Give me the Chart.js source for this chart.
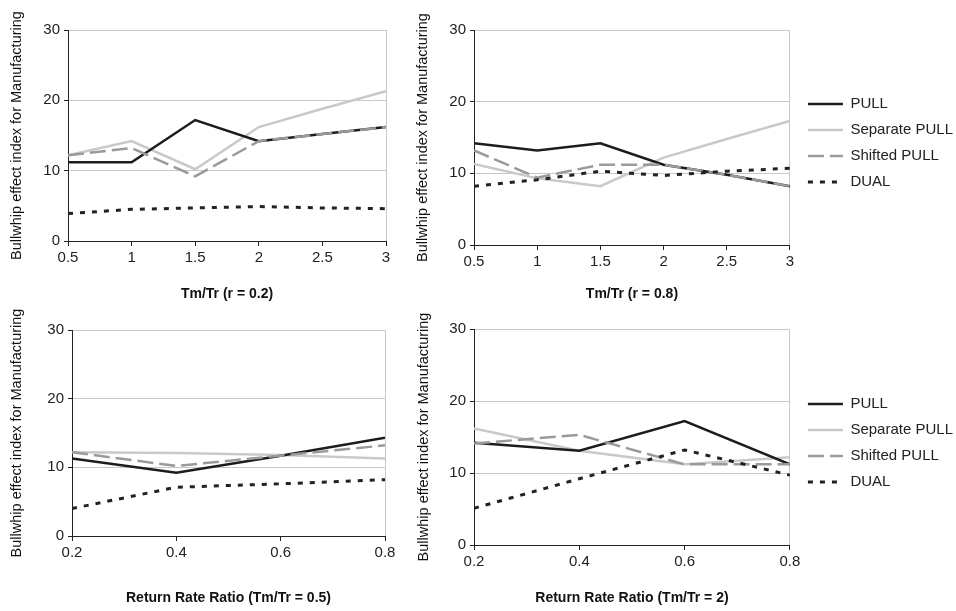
<!DOCTYPE html>
<html>
<head>
<meta charset="utf-8">
<script src="https://cdn.jsdelivr.net/npm/chart.js@4.4.1/dist/chart.umd.min.js"></script>
<style>
  html, body { margin: 0; padding: 0; background: #fff; }
  body { width: 956px; height: 611px; position: relative; overflow: hidden; }
  canvas { position: absolute; }
</style>
</head>
<body>
<canvas id="chartR02" width="400" height="305" style="left:0;top:0"></canvas>
<canvas id="chartR08" width="556" height="305" style="left:400px;top:0"></canvas>
<canvas id="chartTm05" width="400" height="306" style="left:0;top:305px"></canvas>
<canvas id="chartTm2" width="556" height="306" style="left:400px;top:305px"></canvas>
<script>
const seriesNames = ["PULL", "Separate PULL", "Shifted PULL", "DUAL"]
const yTicks = [0, 10, 20, 30]
const tmTrValues = [0.5, 1, 1.5, 2, 2.5, 3]
const returnRatioValues = [0.2, 0.4, 0.6, 0.8]

// Tm/Tr (r = 0.2)
const r02Pull = [11.2, 11.2, 17.2, 14.2, 15.2, 16.2]
const r02Separate = [12.2, 14.2, 10.2, 16.2, 18.8, 21.3]
const r02Shifted = [12.2, 13.2, 9.2, 14.2, 15.2, 16.2]
const r02Dual = [3.9, 4.5, 4.7, 4.9, 4.7, 4.6]

// Tm/Tr (r = 0.8)
const r08Pull = [14.2, 13.2, 14.2, 11.2, 9.8, 8.2]
const r08Separate = [11.3, 9.3, 8.2, 12.2, 14.8, 17.3]
const r08Shifted = [13.2, 9.4, 11.2, 11.2, 9.8, 8.2]
const r08Dual = [8.2, 9.1, 10.3, 9.7, 10.3, 10.7]

// Return Rate Ratio (Tm/Tr = 0.5)
const tm05Pull = [11.3, 9.2, 11.7, 14.3]
const tm05Separate = [12.2, 12.1, 11.8, 11.3]
const tm05Shifted = [12.2, 10.2, 11.7, 13.2]
const tm05Dual = [4.0, 7.1, 7.6, 8.2]

// Return Rate Ratio (Tm/Tr = 2)
const tm2Pull = [14.2, 13.1, 17.2, 11.2]
const tm2Separate = [16.2, 13.1, 11.2, 12.2]
const tm2Shifted = [14.1, 15.3, 11.2, 11.2]
const tm2Dual = [5.1, 9.2, 13.2, 9.7]

const yTitle = "Bullwhip effect index for Manufacturing"
const axisColor = "#222"
const gridGray = "#c8c8c8"
const clear = "rgba(0,0,0,0)"

Chart.defaults.font.family = "'Liberation Sans', Arial, Helvetica, sans-serif"
Chart.defaults.color = axisColor

// one style per series, same order as seriesNames
const lineStyles = [
  { borderColor: "#1c1c1c", borderWidth: 2.5, order: 2 },
  { borderColor: "#c9c9c9", borderWidth: 2.5, order: 3 },
  { borderColor: "#9a9a9a", borderWidth: 2.5, borderDash: [16, 6], order: 1 },
  { borderColor: "#222", borderWidth: 3, borderDash: [5, 7], order: 0 },
]

// legend entries drawn as short line samples with the dataset's own dash
function legendLabels(chart) {
  const items = Chart.defaults.plugins.legend.labels.generateLabels(chart)
  return items.map((item) => {
    const ds = chart.data.datasets[item.datasetIndex]
    return {
      ...item,
      strokeStyle: ds.borderColor,
      fillStyle: ds.borderColor,
      lineWidth: ds.borderWidth,
      lineDash: ds.borderDash || [],
      pointStyle: "line",
    }
  })
}

// nudge the legend a little away from the plot
const legendGap = {
  id: "legendGap",
  afterLayout(chart, args, opts) {
    if (chart.legend && opts.shift) {
      chart.legend.left += opts.shift
      chart.legend.right += opts.shift
    }
  },
}

function makePanel(id, xValues, rows, xTitle, box) {
  const xMin = xValues[0]
  const xMax = xValues[xValues.length - 1]
  const datasets = rows.map((values, i) => ({
    label: seriesNames[i],
    data: values.map((v, j) => ({ x: xValues[j], y: v })),
    pointRadius: 0,
    tension: 0,
    fill: false,
    ...lineStyles[i],
  }))

  new Chart(document.getElementById(id), {
    type: "line",
    data: { datasets },
    plugins: [legendGap],
    options: {
      responsive: false,
      animation: false,
      layout: { padding: { top: box.top, right: box.right, left: 0, bottom: 0 } },
      plugins: {
        tooltip: { enabled: false },
        legendGap: { shift: box.legend ? 7 : 0 },
        legend: {
          display: box.legend,
          position: "right",
          align: "start",
          maxWidth: 220,
          title: { display: true, text: "", font: { size: 10, lineHeight: 1 }, padding: { top: box.legendTop || 0, bottom: 0 } },
          labels: {
            usePointStyle: true,
            pointStyle: "line",
            pointStyleWidth: 35,
            padding: 11,
            color: axisColor,
            font: { size: 15 },
            generateLabels: legendLabels,
            sort: (a, b) => a.datasetIndex - b.datasetIndex,
          },
        },
      },
      scales: {
        x: {
          type: "linear",
          min: xMin,
          max: xMax,
          ticks: {
            stepSize: xValues[1] - xValues[0],
            padding: 3,
            color: axisColor,
            font: { size: 15 },
            callback: (value) => String(+value.toFixed(2)),
          },
          grid: {
            color: (ctx) => (ctx.tick && ctx.tick.value === xMax ? gridGray : clear),
            tickColor: axisColor,
            tickLength: 5,
            lineWidth: 1,
          },
          border: { color: axisColor, width: 1 },
          title: {
            display: true,
            text: xTitle,
            color: "#111",
            font: { size: 14, weight: "bold" },
            padding: { top: 0, bottom: box.xTitlePad },
          },
          afterFit: (scale) => {
            scale.height = box.xHeight
          },
        },
        y: {
          min: yTicks[0],
          max: yTicks[yTicks.length - 1],
          ticks: { stepSize: yTicks[1] - yTicks[0], padding: 4, color: axisColor, font: { size: 15 } },
          grid: {
            color: (ctx) => (ctx.tick && ctx.tick.value === yTicks[0] ? clear : gridGray),
            tickColor: axisColor,
            tickLength: 4,
            lineWidth: 1,
          },
          border: { color: axisColor, width: 1 },
          title: {
            display: true,
            text: yTitle,
            color: "#111",
            font: { size: 14.5 },
            padding: { top: box.yTitlePad, bottom: 0 },
          },
          afterFit: (scale) => {
            scale.width = box.yWidth
          },
        },
      },
    },
  })
}

makePanel("chartR02", tmTrValues, [r02Pull, r02Separate, r02Shifted, r02Dual], "Tm/Tr (r = 0.2)",
  { top: 30, right: 14, yWidth: 68, xHeight: 64, xTitlePad: 2.6, yTitlePad: 7.8, legend: false })

makePanel("chartR08", tmTrValues, [r08Pull, r08Separate, r08Shifted, r08Dual], "Tm/Tr (r = 0.8)",
  { top: 30, right: 0, yWidth: 74, xHeight: 60, xTitlePad: 2.6, yTitlePad: 14.3, legend: true, legendTop: 45.5 })

makePanel("chartTm05", returnRatioValues, [tm05Pull, tm05Separate, tm05Shifted, tm05Dual], "Return Rate Ratio (Tm/Tr = 0.5)",
  { top: 25, right: 15, yWidth: 72, xHeight: 75, xTitlePad: 4.6, yTitlePad: 7.8, legend: false })

makePanel("chartTm2", returnRatioValues, [tm2Pull, tm2Separate, tm2Shifted, tm2Dual], "Return Rate Ratio (Tm/Tr = 2)",
  { top: 24, right: 0, yWidth: 74, xHeight: 66, xTitlePad: 4.6, yTitlePad: 14.8, legend: true, legendTop: 46.5 })
</script>
</body>
</html>
